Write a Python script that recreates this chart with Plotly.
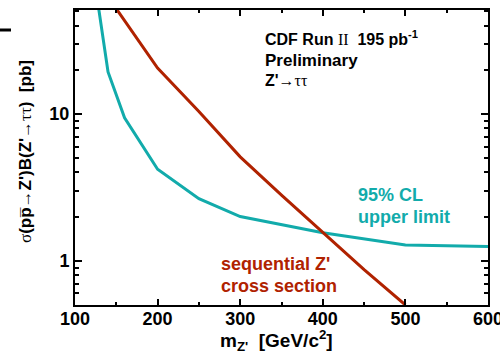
import math
import plotly.graph_objects as go

# ---- data ----
limit_mass = [125, 140, 160, 200, 250, 300, 400, 500, 600]
limit_xsec = [72, 19.3, 9.4, 4.2, 2.65, 2.0, 1.55, 1.28, 1.25]

seq_mass = [150, 200, 250, 300, 350, 400, 450, 500]
seq_xsec = [52, 20.5, 10.4, 5.1, 2.8, 1.55, 0.87, 0.5]

x_ticks = [100, 200, 300, 400, 500, 600]
x_minor = [150, 250, 350, 450, 550]
y_ticks = [1, 10]
y_tick_text = ["1", "10"]
y_minor = [0.5, 0.6, 0.7, 0.8, 0.9, 2, 3, 4, 5, 6, 7, 8, 9, 20, 30, 40, 50]

RED = "#b02200"
CYAN = "#12abab"
FONT = "Liberation Sans, Arial, sans-serif"
SERIF = "Liberation Serif, Times New Roman, serif"

fig = go.Figure()
fig.add_trace(go.Scatter(x=limit_mass, y=limit_xsec, mode="lines",
                         line=dict(color=CYAN, width=3), showlegend=False,
                         hoverinfo="skip"))
fig.add_trace(go.Scatter(x=seq_mass, y=seq_xsec, mode="lines",
                         line=dict(color=RED, width=3), showlegend=False,
                         hoverinfo="skip"))

L, R, T, B = 75, 12, 10, 49
W, H = 500, 354
pw, ph = W - L - R, H - T - B


def px(x):
    return (x - L) / pw


def py(y):
    return (H - B - y) / ph


fig.update_layout(
    width=W, height=H,
    margin=dict(l=L, r=R, t=T, b=B, autoexpand=False),
    paper_bgcolor="white", plot_bgcolor="white",
    font=dict(family=FONT, size=18, color="black"),
    xaxis=dict(
        range=[100, 600], tickmode="array", tickvals=x_ticks,
        ticks="inside", ticklen=6, tickwidth=1.5, tickcolor="black",
        showline=True, linecolor="black", linewidth=2, mirror="ticks",
        showgrid=False, zeroline=False, automargin=False,
        ticklabeloverflow="allow", ticklabelstandoff=-4,
        tickfont=dict(family=FONT, size=18, color="black", weight="bold"),
        minor=dict(tickmode="array", tickvals=x_minor, ticks="inside",
                   ticklen=3, tickwidth=1.5, tickcolor="black", showgrid=False),
    ),
    yaxis=dict(
        type="log", range=[math.log10(0.5), math.log10(51)],
        tickmode="array", tickvals=y_ticks, ticktext=y_tick_text,
        ticks="inside", ticklen=7, tickwidth=1.5, tickcolor="black",
        showline=True, linecolor="black", linewidth=2, mirror="ticks",
        showgrid=False, zeroline=False, automargin=False,
        tickfont=dict(family=FONT, size=18, color="black", weight="bold"),
        minor=dict(tickmode="array", tickvals=y_minor, ticks="inside",
                   ticklen=4, tickwidth=1.5, tickcolor="black", showgrid=False),
    ),
)

def ann(text, x, y, color="black", size=18, xanchor="left", angle=0):
    fig.add_annotation(text=text, x=px(x), y=py(y), xref="paper", yref="paper",
                       xanchor=xanchor, yanchor="middle", showarrow=False,
                       textangle=angle,
                       font=dict(family=FONT, size=size, color=color, weight="bold"))

sr = lambda s: f"<span style='font-family:{SERIF};font-weight:normal'>{s}</span>"

ann("CDF Run " + sr("II") + "  195 pb<sup>-1</sup>", 263, 38, size=16)
ann("Preliminary", 263, 60, size=17)
ann("Z'" + sr("→ττ"), 263, 80, size=16)

ann("95% CL", 356, 195, color=CYAN, size=18)
ann("upper limit", 356, 217, color=CYAN, size=18)
ann("sequential Z'", 219, 264, color=RED, size=18)
ann("cross section", 219, 286, color=RED, size=18)

ann("m<sub>Z'</sub>  [GeV/c<sup>2</sup>]", 276, 340, size=19, xanchor="center")
ann(sr("σ") + "(pp\u0305" + sr("→") + "Z')B(Z'" + sr("→ττ") + ")  [pb]",
    25, 152, size=17, xanchor="center", angle=-90)

# small dash at top-left edge
fig.add_shape(type="line", xref="paper", yref="paper",
              x0=px(0), x1=px(11), y0=py(30), y1=py(30),
              line=dict(color="black", width=3))

fig.write_html("out.html", config={"displayModeBar": False},
               post_script="document.body.style.margin='0';document.body.style.overflow='hidden';")
